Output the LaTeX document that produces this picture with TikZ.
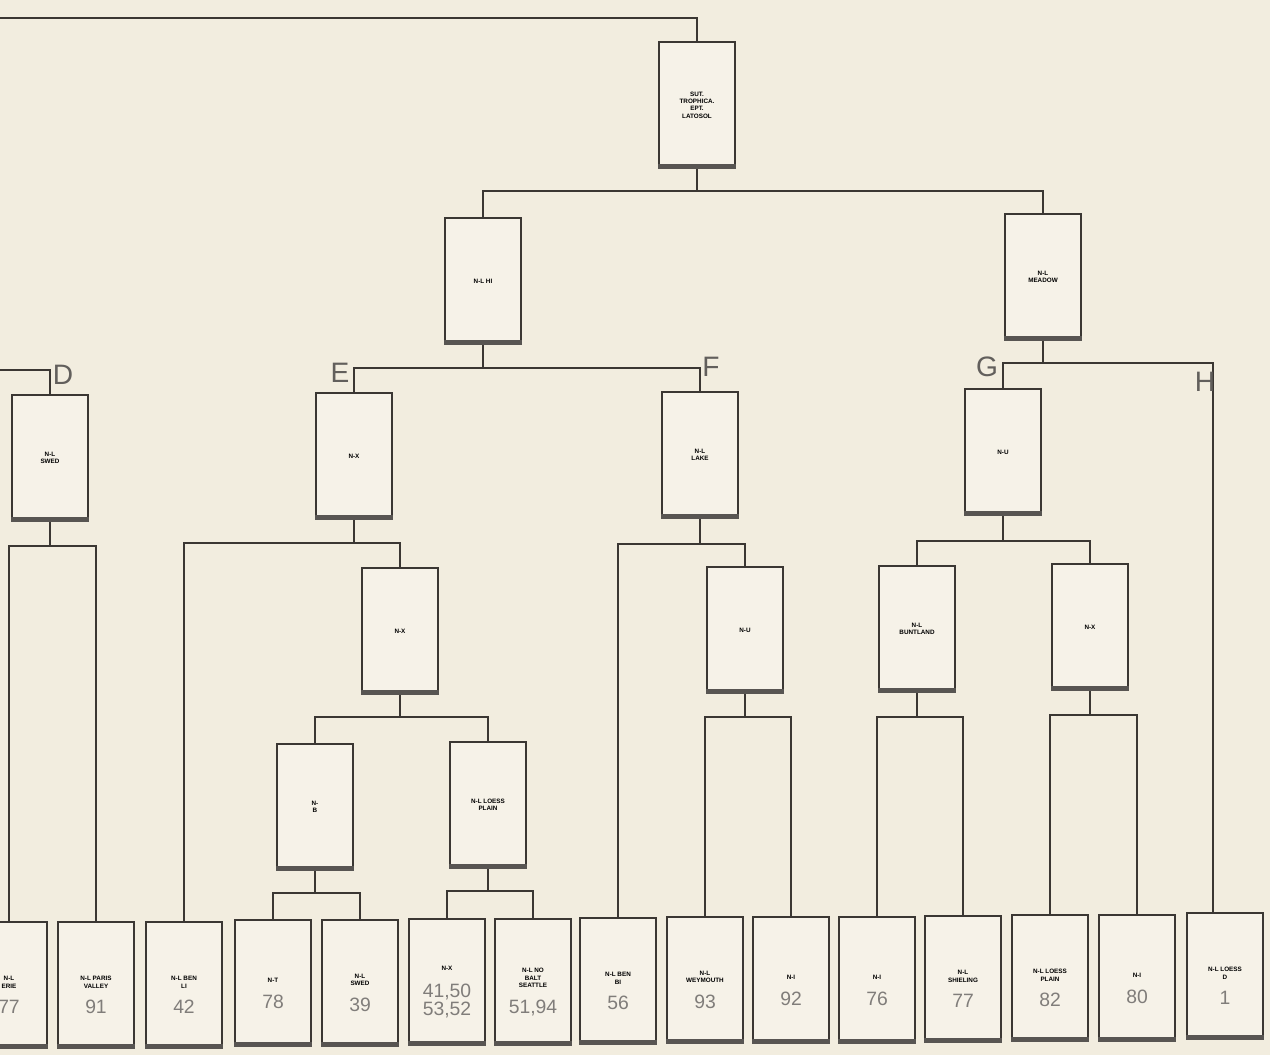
\documentclass[tikz,border=0pt]{standalone}
\usepackage{fontspec}
\setmainfont{Liberation Sans}
\usetikzlibrary{positioning,calc}

\definecolor{paper}{HTML}{F2EDDF}
\definecolor{boxfill}{HTML}{F6F2E8}
\definecolor{ink}{HTML}{3B3733}

\tikzset{
  unit/.style={draw=ink, line width=1.5pt, fill=boxfill, minimum width=1.52cm,
    minimum height=2.52cm, inner sep=1pt, align=center,
    font=\fontsize{3.6}{4.2}\selectfont\bfseries},
  link/.style={draw=ink, line width=1pt},
  tag/.style={font=\fontsize{16}{18}\selectfont, text=ink!80, inner sep=0pt}
}
\newcommand{\leafnum}[2][6pt]{\\[#1]{\fontsize{11}{13}\selectfont\mdseries\color{ink!65}#2}}
\newcommand{\lead}{\rule{0pt}{14pt}}

\begin{document}
\begin{tikzpicture}[x=0.02cm, y=-0.02cm]
  \useasboundingbox (0,0) rectangle (1270,1055);
  \fill[paper] (0,0) rectangle (1270,1055);
  \clip (0,0) rectangle (1270,1055);

  % upper levels
  \node[unit] (top) at (697,105) {SUT.\\TROPHICA.\\EPT.\\LATOSOL};
  \node[unit] (ha) at (483,281) {N-L HI};
  \node[unit] (hb) at (1043,277) {N-L\\MEADOW};
  \node[unit] (d) at (50,458) {N-L\\SWED};
  \node[unit] (e) at (354,456) {N-X};
  \node[unit] (f) at (700,455) {N-L\\LAKE};
  \node[unit] (g) at (1003,452) {N-U};
  \node[unit] (ex) at (400,631) {N-X};
  \node[unit] (fx) at (745,630) {N-U};
  \node[unit] (ga) at (917,629) {N-L\\BUNTLAND};
  \node[unit] (gb) at (1090,627) {N-X};
  \node[unit] (eb) at (315,807) {N-\\B};
  \node[unit] (el) at (488,805) {N-L LOESS\\PLAIN};

  % bottom row
  \node[unit] (l1) at (9,985) {\lead N-L\\ERIE\leafnum{77}};
  \node[unit] (l2) at (96,985) {\lead N-L PARIS\\VALLEY\leafnum{91}};
  \node[unit] (l3) at (184,985) {\lead N-L BEN\\LI\leafnum{42}};
  \node[unit] (l4) at (273,983) {\lead N-T\leafnum{78}};
  \node[unit] (l5) at (360,983) {\lead N-L\\SWED\leafnum{39}};
  \node[unit] (l6) at (447,982) {\lead N-X\leafnum[7pt]{41,50}\leafnum[0pt]{53,52}};
  \node[unit] (l7) at (533,982) {\lead N-L NO\\BALT\\SEATTLE\leafnum{51,94}};
  \node[unit] (l8) at (618,981) {\lead N-L BEN\\BI\leafnum{56}};
  \node[unit] (l9) at (705,980) {\lead N-L\\WEYMOUTH\leafnum{93}};
  \node[unit] (l10) at (791,980) {\lead N-I\leafnum{92}};
  \node[unit] (l11) at (877,980) {\lead N-I\leafnum{76}};
  \node[unit] (l12) at (963,979) {\lead N-L\\SHIELING\leafnum{77}};
  \node[unit] (l13) at (1050,978) {\lead N-L LOESS\\PLAIN\leafnum{82}};
  \node[unit] (l14) at (1137,978) {\lead N-I\leafnum{80}};
  \node[unit] (l15) at (1225,976) {\lead N-L LOESS\\D\leafnum{1}};

  \foreach \n in {top,ha,hb,d,e,f,g,ex,fx,ga,gb,eb,el,
                  l1,l2,l3,l4,l5,l6,l7,l8,l9,l10,l11,l12,l13,l14,l15}
    \fill[ink!85] (\n.south west) rectangle ([yshift=3pt]\n.south east);

  % connectors
  \coordinate (inA) at (-5,18);
  \coordinate (inD) at (-5,370);
  \draw[link] (inA) -| (top.north);
  \draw[link] (top.south) -- ++(0,22) coordinate (j0);
  \draw[link] (ha.north) |- (j0) -| (hb.north);
  \draw[link] (ha.south) -- ++(0,23) coordinate (j1);
  \draw[link] (e.north) |- (j1) -| (f.north);
  \draw[link] (hb.south) -- ++(0,22) coordinate (j2);
  \draw[link] (g.north) |- (j2) -| ([xshift=-7]l15.north);
  \draw[link] (inD) -| (d.north);
  \draw[link] (d.south) -- ++(0,24) coordinate (j3);
  \draw[link] (l1.north) |- (j3) -| (l2.north);
  \draw[link] (e.south) -- ++(0,23) coordinate (j4);
  \draw[link] (l3.north) |- (j4) -| (ex.north);
  \draw[link] (ex.south) -- ++(0,22) coordinate (j5);
  \draw[link] (eb.north) |- (j5) -| (el.north);
  \draw[link] (eb.south) -- ++(0,22) coordinate (j6);
  \draw[link] (l4.north) |- (j6) -| (l5.north);
  \draw[link] (el.south) -- ++(0,22) coordinate (j7);
  \draw[link] (l6.north) |- (j7) -| (l7.north);
  \draw[link] (f.south) -- ++(0,25) coordinate (j8);
  \draw[link] (l8.north) |- (j8) -| (fx.north);
  \draw[link] (fx.south) -- ++(0,23) coordinate (j9);
  \draw[link] (l9.north) |- (j9) -| (l10.north);
  \draw[link] (g.south) -- ++(0,25) coordinate (j10);
  \draw[link] (ga.north) |- (j10) -| (gb.north);
  \draw[link] (ga.south) -- ++(0,24) coordinate (j11);
  \draw[link] (l11.north) |- (j11) -| (l12.north);
  \draw[link] (gb.south) -- ++(0,24) coordinate (j12);
  \draw[link] (l13.north) |- (j12) -| (l14.north);

  % group letters
  \node[tag] (td) at (63,375) {D};
  \node[tag] (te) at (340,373) {E};
  \node[tag] (tf) at (711,367) {F};
  \node[tag] (tg) at (987,367) {G};
  \node[tag] (th) at (1205,382) {H};
\end{tikzpicture}
\end{document}
